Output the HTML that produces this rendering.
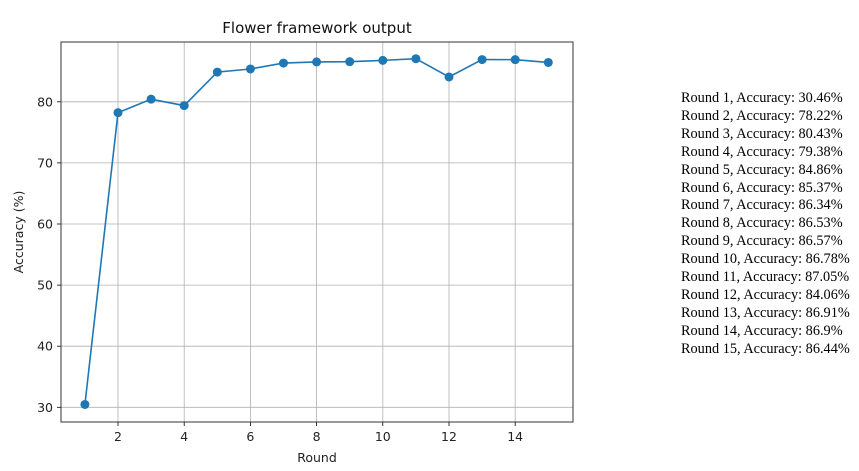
<!DOCTYPE html>
<html><head><meta charset="utf-8"><style>
body{margin:0;background:#fff;width:859px;height:471px;overflow:hidden}
svg{font-family:"DejaVu Sans","Liberation Sans",sans-serif}
.log{position:absolute;left:681px;top:90px;font-family:"Liberation Serif",serif;font-size:14.3px;line-height:17.9px;color:#000;white-space:nowrap}
</style></head><body>
<svg id="c" width="859" height="471" style="position:absolute;left:0;top:0"></svg>
<div class="log" id="log"></div>
<script>
const rounds=[1,2,3,4,5,6,7,8,9,10,11,12,13,14,15];
const acc=[30.46,78.22,80.43,79.38,84.86,85.37,86.34,86.53,86.57,86.78,87.05,84.06,86.91,86.9,86.44];
const accLabels=["30.46","78.22","80.43","79.38","84.86","85.37","86.34","86.53","86.57","86.78","87.05","84.06","86.91","86.9","86.44"];
const xTicks=[2,4,6,8,10,12,14];
const yTicks=[30,40,50,60,70,80];
const L=61,R=573,T=42,B=422;
const sx=v=>118+(v-2)*33.1;
const sy=v=>407.3-(v-30)*6.11;
const svg=document.getElementById('c');const NS='http://www.w3.org/2000/svg';
function mk(t,a,txt){const e=document.createElementNS(NS,t);for(const k in a)e.setAttribute(k,a[k]);if(txt!=null)e.textContent=txt;svg.appendChild(e);return e;}
xTicks.forEach(v=>{const g=mk('line',{x1:sx(v),x2:sx(v),y1:T,y2:B,stroke:'#b0b0b0','stroke-width':0.8});

const t=mk('line',{x1:sx(v),x2:sx(v),y1:B,y2:B+4,stroke:'#000','stroke-width':0.8});

const l=mk('text',{x:sx(v),y:B+19,'text-anchor':'middle','font-size':12.5,fill:'#222'},v);
});
yTicks.forEach(v=>{const g=mk('line',{x1:L,x2:R,y1:sy(v),y2:sy(v),stroke:'#b0b0b0','stroke-width':0.8});

const t=mk('line',{x1:L-4,x2:L,y1:sy(v),y2:sy(v),stroke:'#000','stroke-width':0.8});

const l=mk('text',{x:L-8,y:sy(v)+4.5,'text-anchor':'end','font-size':12.5,fill:'#222'},v);
});
const fr=mk('rect',{x:L,y:T,width:R-L,height:B-T,fill:'none',stroke:'#333','stroke-width':1});

const ln=mk('polyline',{points:rounds.map((r,i)=>sx(r)+','+sy(acc[i])).join(' '),fill:'none',stroke:'#1f77b4','stroke-width':1.6});

rounds.forEach((r,i)=>{const c=mk('circle',{cx:sx(r),cy:sy(acc[i]),r:4.5,fill:'#1f77b4'});
});
const ti=mk('text',{x:(L+R)/2,y:33,'text-anchor':'middle','font-size':15,fill:'#111'},'Flower framework output');

const xt=mk('text',{x:(L+R)/2,y:462,'text-anchor':'middle','font-size':12.5,fill:'#222'},'Round');

const yt=mk('text',{x:0,y:0,'text-anchor':'middle','font-size':12.5,fill:'#222',transform:'translate(23,'+((T+B)/2)+') rotate(-90)'},'Accuracy (%)');

const log=document.getElementById('log');
rounds.forEach((r,i)=>{const d=document.createElement('div');d.textContent='Round '+r+', Accuracy: '+accLabels[i]+'%';


log.appendChild(d);});
</script>
</body></html>
